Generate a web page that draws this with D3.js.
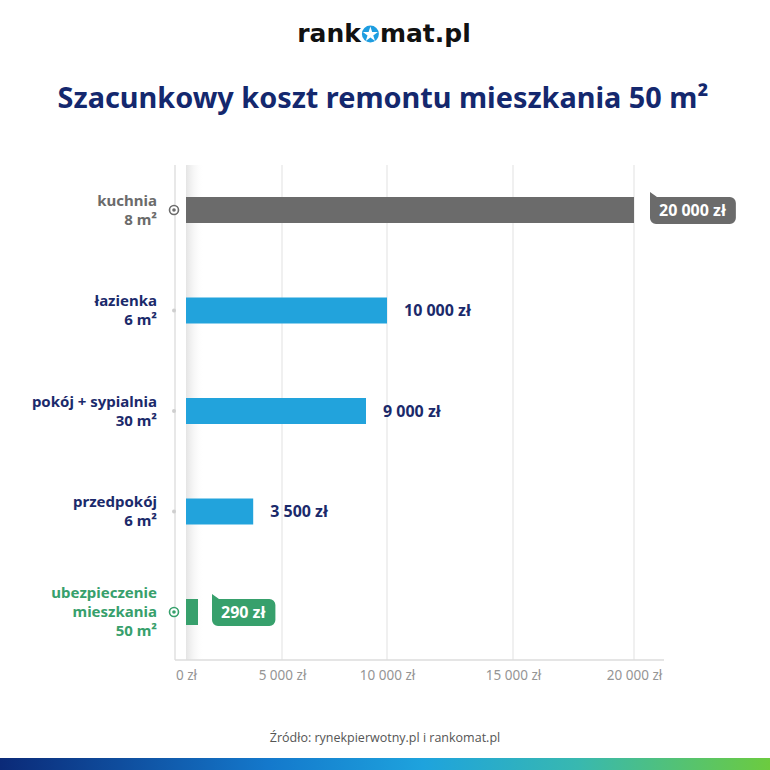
<!DOCTYPE html>
<html>
<head>
<meta charset="utf-8">
<script src="https://cdn.jsdelivr.net/npm/d3@7"></script>
<style>
  body { margin: 0; background: #fff; }
  text { font-family: "Noto Sans", "Open Sans", sans-serif; }
</style>
</head>
<body>
<svg id="chart" width="770" height="770"></svg>
<script>
// dane
const kategorie = ["kuchnia", "łazienka", "pokój + sypialnia", "przedpokój", "ubezpieczenie"];
const etykiety = [["kuchnia", "8 m²"], ["łazienka", "6 m²"], ["pokój + sypialnia", "30 m²"], ["przedpokój", "6 m²"], ["ubezpieczenie", "mieszkania", "50 m²"]];
const koszty = [20000, 10000, 9000, 3500, 290];
const ticki = [0, 5000, 10000, 15000, 20000];
const tytul = "Szacunkowy koszt remontu mieszkania 50 m²";
const zrodlo = "Źródło: rynekpierwotny.pl i rankomat.pl";

const navy = "#1b2a6b";
const blue = "#22a3dc";
const grey = "#6b6b6b";
const green = "#37a06c";

const kolor = i => i === 0 ? grey : (i === 4 ? green : blue);
const kolorTekstu = i => i === 0 ? grey : (i === 4 ? green : navy);

const fmt = v => d3.format(",")(v).replace(/,/g, " ") + " zł";

const svg = d3.select("#chart");

// skala pozioma (na oryginale nie jest równomierna)
const gx = d3.scaleLinear().domain(ticki).range([186, 282, 387, 513, 634]);
const gy = d3.scalePoint().domain(kategorie).range([210, 612]);
const yTop = 165, yBottom = 660, axisX = 175;

// logo
const logo = svg.append("g").attr("transform", "translate(0,42)");
const t1 = logo.append("text").text("rank").attr("font-size", 25).attr("font-weight", 900)
  .style("font-family", "'DejaVu Sans', sans-serif").attr("fill", "#111");
const t2 = logo.append("text").text("mat.pl").attr("font-size", 25).attr("font-weight", 900)
  .style("font-family", "'DejaVu Sans', sans-serif").attr("fill", "#111");
const w1 = t1.node().getComputedTextLength(), w2 = t2.node().getComputedTextLength();
const oW = 19, total = w1 + oW + w2, lx = 384 - total / 2;
t1.attr("x", lx);
t2.attr("x", lx + w1 + oW);
const ocx = lx + w1 + oW / 2;
logo.append("circle").attr("cx", ocx).attr("cy", -8).attr("r", 8.5).attr("fill", "#1e9de0");
const star = d3.symbol().type(d3.symbolStar).size(70);
logo.append("path").attr("d", star()).attr("transform", `translate(${ocx},-7.5)`).attr("fill", "#fff");

// tytuł
const tt = svg.append("text").text(tytul).attr("x", 383).attr("y", 108)
  .attr("text-anchor", "middle").attr("font-weight", 700).attr("fill", "#14286e")
  .attr("font-size", 26);
const tw = tt.node().getComputedTextLength();
tt.attr("font-size", 26 * 651 / tw);

// cień przy osi
const defs = svg.append("defs");
const lg = defs.append("linearGradient").attr("id", "cien");
lg.append("stop").attr("offset", "0%").attr("stop-color", "#e4e4e4");
lg.append("stop").attr("offset", "100%").attr("stop-color", "#ffffff").attr("stop-opacity", 0);
svg.append("rect").attr("x", gx(0)).attr("y", yTop).attr("width", 18).attr("height", yBottom - yTop)
  .attr("fill", "url(#cien)");

// siatka
svg.append("g").selectAll("line").data(ticki.slice(1)).join("line")
  .attr("x1", d => gx(d)).attr("x2", d => gx(d))
  .attr("y1", yTop).attr("y2", yBottom)
  .attr("stroke", "#e8e8e8").attr("stroke-width", 1.3);

// osie
svg.append("line").attr("x1", axisX).attr("x2", axisX).attr("y1", yTop).attr("y2", yBottom)
  .attr("stroke", "#dcdcdc").attr("stroke-width", 1.3);
const xAxis = d3.axisBottom(gx).tickValues(ticki).tickFormat(fmt).tickSize(0).tickPadding(10);
const ax = svg.append("g").attr("transform", `translate(0,${yBottom})`).call(xAxis);
ax.select(".domain").attr("d", `M${axisX},0H${gx(20000) + 30}`).attr("stroke", "#dcdcdc").attr("stroke-width", 1.3);
ax.selectAll("text").attr("fill", "#959595").attr("font-size", 13.5)
  .style("font-family", "'Noto Sans', sans-serif");

// znaczniki na osi
kategorie.forEach((k, i) => {
  if (i === 0 || i === 4) {
    svg.append("circle").attr("cx", axisX - 1).attr("cy", gy(k)).attr("r", 4.5)
      .attr("fill", "#fff").attr("stroke", kolorTekstu(i)).attr("stroke-width", 1.6);
    svg.append("circle").attr("cx", axisX - 1).attr("cy", gy(k)).attr("r", 1.8).attr("fill", kolorTekstu(i));
  } else {
    svg.append("circle").attr("cx", axisX - 1).attr("cy", gy(k)).attr("r", 2).attr("fill", "#cfcfcf");
  }
});

// słupki
const bh = 26;
svg.append("g").selectAll("rect").data(koszty).join("rect")
  .attr("x", gx(0))
  .attr("y", (d, i) => gy(kategorie[i]) - bh / 2)
  .attr("width", d => Math.max(gx(d) - gx(0), 12))
  .attr("height", bh)
  .attr("fill", (d, i) => kolor(i));

// etykiety kategorii
kategorie.forEach((k, i) => {
  const lines = etykiety[i];
  const lh = 19;
  const y0 = gy(k) - (lines.length - 1) * lh / 2 + 5;
  const t = svg.append("text").attr("text-anchor", "end").attr("font-weight", 700)
    .attr("font-size", 15).attr("fill", kolorTekstu(i));
  lines.forEach((l, j) => t.append("tspan").attr("x", 157).attr("y", y0 + j * lh).text(l));
});

// etykiety wartości
koszty.forEach((v, i) => {
  const cy = gy(kategorie[i]);
  if (i === 0 || i === 4) {
    const bx = i === 0 ? gx(v) + 16 : gx(0) + 26;
    const g = svg.append("g");
    const t = g.append("text").text(fmt(v)).attr("fill", "#fff").attr("font-weight", 700)
      .attr("font-size", 16).attr("y", cy + 5.5);
    const w = t.node().getComputedTextLength() + 19;
    t.attr("x", bx + 9);
    const r = 6, h = 27, y = cy - 13;
    const p = d3.path();
    p.moveTo(bx, y - 5);
    p.lineTo(bx + 7, y);
    p.lineTo(bx + w - r, y);
    p.arcTo(bx + w, y, bx + w, y + r, r);
    p.lineTo(bx + w, y + h - r);
    p.arcTo(bx + w, y + h, bx + w - r, y + h, r);
    p.lineTo(bx + r, y + h);
    p.arcTo(bx, y + h, bx, y + h - r, r);
    p.closePath();
    g.insert("path", "text").attr("d", p.toString()).attr("fill", kolor(i));
  } else {
    svg.append("text").text(fmt(v)).attr("x", gx(v) + 17).attr("y", cy + 5.5)
      .attr("fill", navy).attr("font-weight", 700).attr("font-size", 16);
  }
});

// źródło
svg.append("text").text(zrodlo).attr("x", 385).attr("y", 742).attr("text-anchor", "middle")
  .attr("fill", "#555").attr("font-size", 12.5).style("font-family", "'Open Sans', sans-serif");

// pasek na dole
const bg = defs.append("linearGradient").attr("id", "pasek");
[["0%", "#0b2a78"], ["35%", "#1479cc"], ["55%", "#1ea3dd"], ["75%", "#38b8b0"], ["100%", "#6ccb3f"]]
  .forEach(s => bg.append("stop").attr("offset", s[0]).attr("stop-color", s[1]));
svg.append("rect").attr("x", 0).attr("y", 758).attr("width", 770).attr("height", 12).attr("fill", "url(#pasek)");
</script>
</body>
</html>
